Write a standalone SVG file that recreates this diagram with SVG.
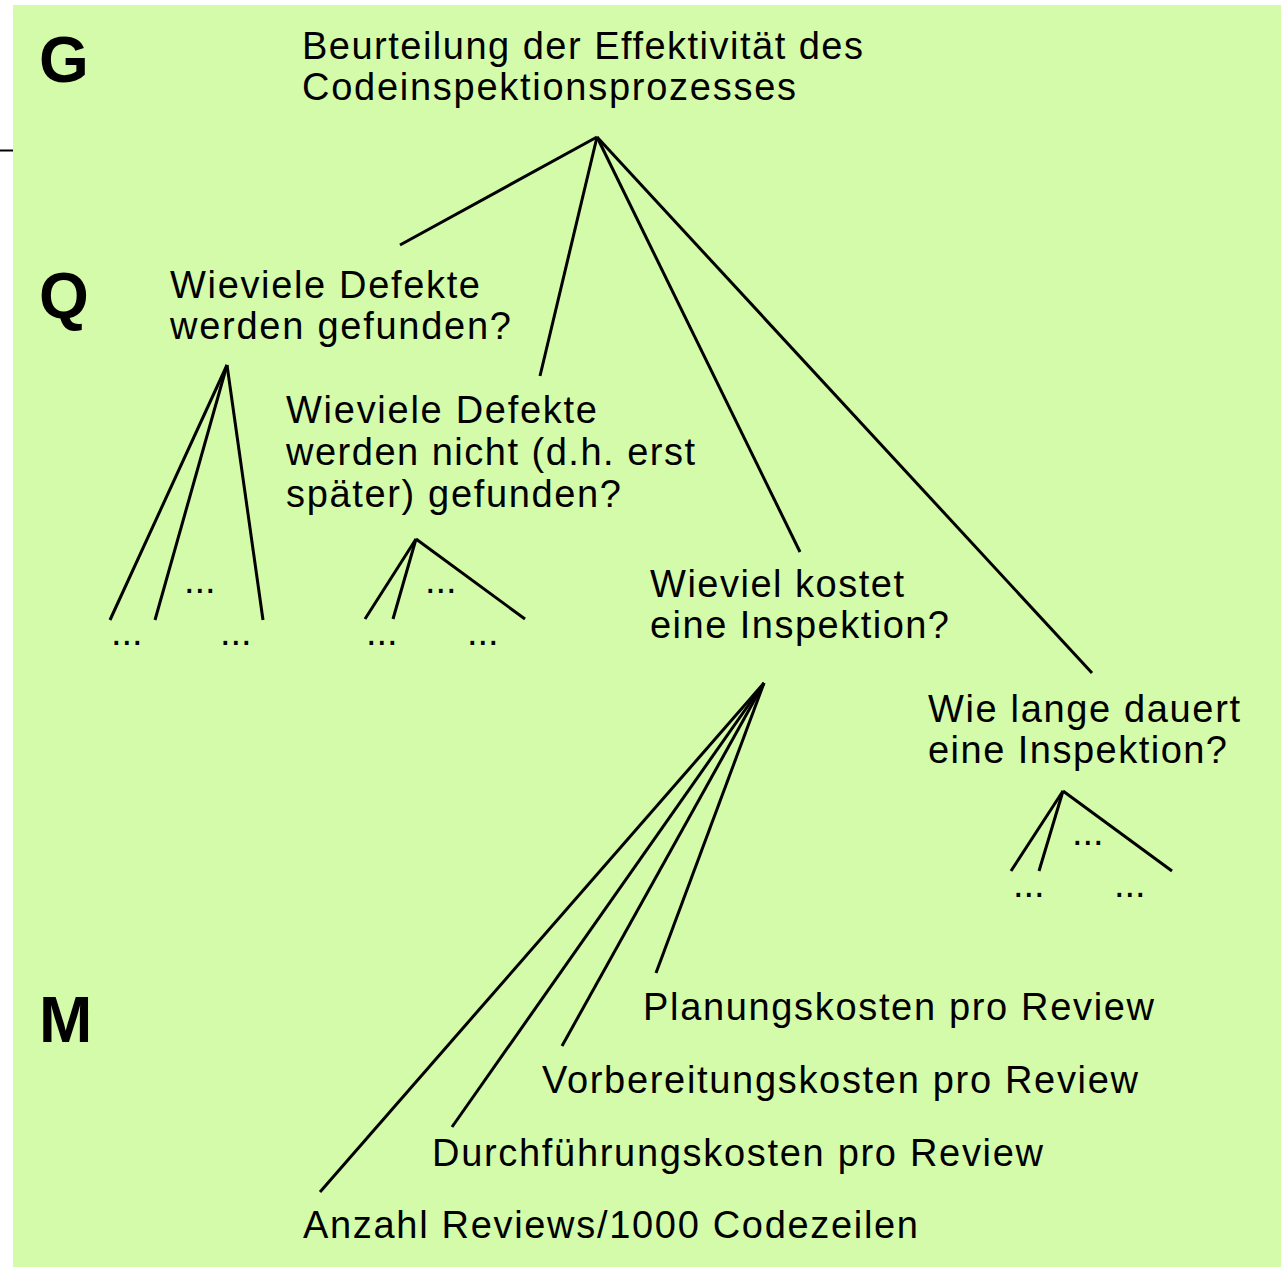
<svg xmlns="http://www.w3.org/2000/svg" width="1281" height="1267" viewBox="0 0 1281 1267">
<style>
.t{font-family:"Liberation Sans",Arial,sans-serif;font-size:38px;fill:#000}
.b{font-family:"Liberation Sans",Arial,sans-serif;font-size:64px;font-weight:bold;fill:#000}
.c line{stroke:#000;stroke-width:3;stroke-linecap:butt}
</style>
<rect x="0" y="0" width="1281" height="1267" fill="#fff"/>
<line x1="0" y1="150.5" x2="13" y2="150.5" stroke="#000" stroke-width="2"/>
<rect x="13" y="5" width="1268" height="1262" fill="#d4fba9"/>
<g id="levels">
<text class="b" x="39" y="82">G</text>
<text class="b" x="39" y="318">Q</text>
<text class="b" x="39" y="1042">M</text>
</g>
<g id="goal"><text class="t" x="302" y="59" textLength="561">Beurteilung der Effektivität des</text><text class="t" x="302" y="100" textLength="494">Codeinspektionsprozesses</text></g>
<g id="q1"><text class="t" x="170" y="298" textLength="310">Wieviele Defekte</text><text class="t" x="170" y="339" textLength="341">werden gefunden?</text></g>
<g id="q2"><text class="t" x="286" y="423" textLength="311">Wieviele Defekte</text><text class="t" x="286" y="465" textLength="409">werden nicht (d.h. erst</text><text class="t" x="286" y="507" textLength="335">später) gefunden?</text></g>
<g id="q3"><text class="t" x="650" y="597" textLength="254">Wieviel kostet</text><text class="t" x="650" y="638" textLength="299">eine Inspektion?</text></g>
<g id="q4"><text class="t" x="928" y="722" textLength="312">Wie lange dauert</text><text class="t" x="928" y="763" textLength="299">eine Inspektion?</text></g>
<g id="m1"><text class="t" x="643" y="1020" textLength="511">Planungskosten pro Review</text></g>
<g id="m2"><text class="t" x="542" y="1093" textLength="596">Vorbereitungskosten pro Review</text></g>
<g id="m3"><text class="t" x="432" y="1166" textLength="611">Durchführungskosten pro Review</text></g>
<g id="m4"><text class="t" x="303" y="1238" textLength="615">Anzahl Reviews/1000 Codezeilen</text></g>
<g id="dots">
<text class="t" x="184" y="593">...</text>
<text class="t" x="111" y="645">...</text>
<text class="t" x="220" y="645">...</text>
<text class="t" x="425" y="593">...</text>
<text class="t" x="366" y="645">...</text>
<text class="t" x="467" y="645">...</text>
<text class="t" x="1072" y="845">...</text>
<text class="t" x="1013" y="897">...</text>
<text class="t" x="1114" y="897">...</text>
</g>
<g id="connectors" class="c">
<line x1="597" y1="137" x2="400" y2="245"/>
<line x1="597" y1="137" x2="540" y2="376"/>
<line x1="597" y1="137" x2="800" y2="552"/>
<line x1="597" y1="137" x2="1092" y2="673"/>
<line x1="227" y1="365" x2="110" y2="620"/>
<line x1="227" y1="365" x2="155" y2="620"/>
<line x1="227" y1="365" x2="263" y2="620"/>
<line x1="416" y1="539" x2="365" y2="619"/>
<line x1="416" y1="539" x2="393" y2="619"/>
<line x1="416" y1="539" x2="525" y2="619"/>
<line x1="1063" y1="791" x2="1011" y2="871"/>
<line x1="1063" y1="791" x2="1039" y2="871"/>
<line x1="1063" y1="791" x2="1172" y2="871"/>
<line x1="764" y1="683" x2="320" y2="1192"/>
<line x1="764" y1="683" x2="452" y2="1127"/>
<line x1="764" y1="683" x2="562" y2="1046"/>
<line x1="764" y1="683" x2="656" y2="973"/>
</g>
</svg>
